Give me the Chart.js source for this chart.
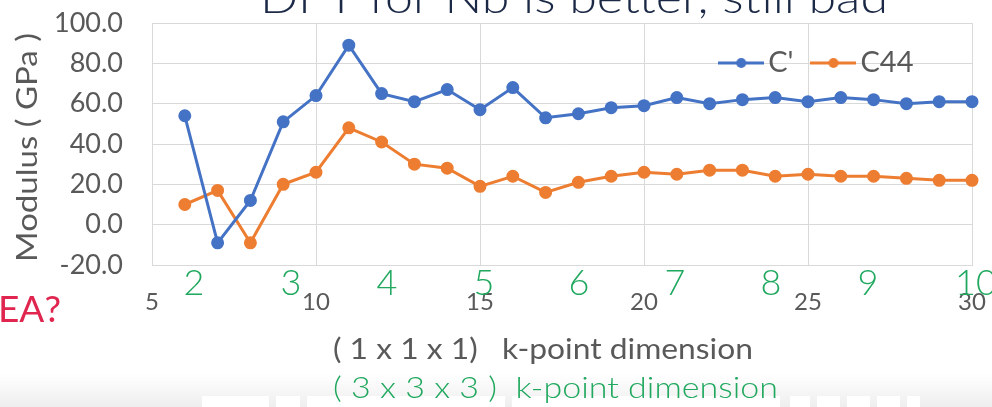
<!DOCTYPE html>
<html>
<head>
<meta charset="utf-8">
<script src="https://cdn.jsdelivr.net/npm/chart.js@4.4.1/dist/chart.umd.min.js"></script>
<style>
  html, body { margin: 0; padding: 0; background: #ffffff; overflow: hidden; }
  #wrap { position: relative; width: 992px; height: 407px; }
  canvas { display: block; }
</style>
</head>
<body>
<div id="wrap"><canvas id="c" width="992" height="407"></canvas></div>
<script>
// k-point mesh size (1 x 1 x 1 notation)
const kPoints = [6, 7, 8, 9, 10, 11, 12, 13, 14, 15, 16, 17, 18, 19, 20, 21, 22, 23, 24, 25, 26, 27, 28, 29, 30];
// Elastic moduli in GPa
const cPrime = [54, -9, 12, 51, 64, 89, 65, 61, 67, 57, 68, 53, 55, 58, 59, 63, 60, 62, 63, 61, 63, 62, 60, 61, 61];
const c44    = [10, 17, -9, 20, 26, 48, 41, 30, 28, 19, 24, 16, 21, 24, 26, 25, 27, 27, 24, 25, 24, 24, 23, 22, 22];
const seriesNames = ["C'", 'C44'];
// Axis ticks
const xTicks = [5, 10, 15, 20, 25, 30];
const yTicks = [-20, 0, 20, 40, 60, 80, 100];
// Equivalent (3 x 3 x 3) mesh labels written under the axis
const coarseLabels = ['2', '3', '4', '5', '6', '7', '8', '9', '10'];

// Layout of the annotation text around the plot
const coarseLabelPx = [194, 291, 387, 484, 579, 675, 771, 868, 976];

const BLUE = '#4472C4';
const ORANGE = '#ED7D31';
const GREY_TEXT = '#595959';
const GRID = '#d9d9d9';
const GREEN = '#1fa85e';

function legendIcon(color) {
  const c = document.createElement('canvas');
  c.width = 46; c.height = 12;
  const g = c.getContext('2d');
  g.strokeStyle = color; g.lineWidth = 3;
  g.beginPath(); g.moveTo(0, 6); g.lineTo(46, 6); g.stroke();
  g.fillStyle = color;
  g.beginPath(); g.arc(23, 6, 5, 0, Math.PI * 2); g.fill();
  return c;
}
const icons = [legendIcon(BLUE), legendIcon(ORANGE)];

// draw text stretched to a given width
function fitText(ctx, text, x, baseline, width) {
  const w = ctx.measureText(text).width;
  const s = width / w;
  ctx.save();
  ctx.translate(x, baseline);
  ctx.scale(s, 1);
  ctx.fillText(text, 0, 0);
  ctx.restore();
}

// one-row legend placed inside the plot area
const legendRow = {
  id: 'legendRow',
  beforeUpdate(chart) {
    if (chart.legend) chart.legend.isHorizontal = () => true;
  },
  beforeDraw(chart) {
    const lg = chart.legend;
    lg.right = chart.chartArea.right - 31;
    lg.top = chart.chartArea.top - 2;
  }
};

const backdrop = {
  id: 'backdrop',
  beforeDraw(chart) {
    const ctx = chart.ctx;
    ctx.save();
    const g = ctx.createLinearGradient(0, 374, 0, 407);
    g.addColorStop(0, 'rgba(238,238,238,0)');
    g.addColorStop(1, 'rgba(238,238,238,1)');
    ctx.fillStyle = g;
    ctx.fillRect(0, 374, 992, 33);
    ctx.fillStyle = '#ffffff';
    [[202, 269], [276, 300], [307, 505], [512, 780], [790, 810], [817, 840], [847, 870], [877, 900], [907, 920]]
      .forEach(([a, b]) => ctx.fillRect(a, 396, b - a, 11));
    ctx.restore();
  }
};

const annotations = {
  id: 'annotations',
  afterDraw(chart) {
    const ctx = chart.ctx;
    ctx.save();
    ctx.textAlign = 'left';
    ctx.textBaseline = 'alphabetic';

    // slide heading (runs off the top edge)
    ctx.fillStyle = '#1b2946';
    ctx.font = '300 44px Lato';
    fitText(ctx, 'DFT for Nb is better, still bad', 260, 13, 628);

    // y-axis title
    ctx.fillStyle = GREY_TEXT;
    ctx.font = '29px Lato';
    ctx.save();
    ctx.translate(37, 148);
    ctx.rotate(-Math.PI / 2);
    fitText(ctx, 'Modulus ( GPa )', -114, 0, 229);
    ctx.restore();

    // x-axis title
    fitText(ctx, '( 1 x 1 x 1)   k-point dimension', 333, 359, 420);

    // green (3 x 3 x 3) labels
    ctx.fillStyle = GREEN;
    ctx.font = '300 29px Lato';
    fitText(ctx, '( 3 x 3 x 3 )  k-point dimension', 333, 398, 445);
    ctx.font = '300 36px Lato';
    ctx.textAlign = 'center';
    coarseLabels.forEach((t, i) => ctx.fillText(t, coarseLabelPx[i], 295));

    // margin note
    ctx.textAlign = 'left';
    ctx.fillStyle = '#e0264f';
    ctx.font = '37px Lato';
    ctx.fillText('EA?', -2, 322);
    ctx.restore();
  }
};

function build() {
  Chart.defaults.font.family = 'Lato';
  new Chart(document.getElementById('c'), {
    type: 'line',
    data: {
      datasets: [
        {
          label: seriesNames[0],
          data: kPoints.map((k, i) => ({ x: k, y: cPrime[i] })),
          borderColor: BLUE, backgroundColor: BLUE,
          borderWidth: 3, pointRadius: 5, pointHoverRadius: 5,
          tension: 0, clip: false
        },
        {
          label: seriesNames[1],
          data: kPoints.map((k, i) => ({ x: k, y: c44[i] })),
          borderColor: ORANGE, backgroundColor: ORANGE,
          borderWidth: 3, pointRadius: 5, pointHoverRadius: 5,
          tension: 0, clip: false
        }
      ]
    },
    options: {
      responsive: false,
      animation: false,
      devicePixelRatio: 1,
      layout: { padding: { top: 23, right: 20, left: 0, bottom: 0 } },
      scales: {
        x: {
          type: 'linear',
          min: xTicks[0], max: xTicks[xTicks.length - 1],
          afterBuildTicks(scale) { scale.ticks = xTicks.map(v => ({ value: v })); },
          afterFit(scale) {
            scale.height = 142;
            scale.paddingLeft = 0; scale.paddingRight = 0;
          },
          grid: { color: GRID, lineWidth: 1, drawTicks: false },
          border: { color: GRID, width: 1 },
          ticks: { color: GREY_TEXT, font: { size: 24 }, padding: 23, maxRotation: 0 }
        },
        y: {
          min: yTicks[0], max: yTicks[yTicks.length - 1],
          afterBuildTicks(scale) { scale.ticks = yTicks.map(v => ({ value: v })); },
          afterFit(scale) {
            scale.width = 152;
            scale.paddingTop = 0; scale.paddingBottom = 0;
          },
          grid: { color: GRID, lineWidth: 1, drawTicks: false },
          border: { color: GRID, width: 1 },
          ticks: {
            color: GREY_TEXT, font: { size: 27 }, padding: 29,
            callback: v => Number(v).toFixed(1)
          }
        }
      },
      plugins: {
        title: { display: false },
        tooltip: { enabled: false },
        legend: {
          position: 'chartArea',
          align: 'end',
          labels: {
            color: GREY_TEXT,
            font: { size: 29 },
            usePointStyle: true,
            pointStyleWidth: 25,
            padding: 27.5,
            generateLabels(chart) {
              const items = Chart.defaults.plugins.legend.labels.generateLabels(chart);
              items.forEach((it, i) => { it.pointStyle = icons[i]; });
              return items;
            }
          }
        }
      }
    },
    plugins: [legendRow, backdrop, annotations]
  });
}

if (document.fonts && document.fonts.load) {
  Promise.all(['24px Lato', '29px Lato', '300 29px Lato'].map(f => document.fonts.load(f))).then(build, build);
} else {
  build();
}
</script>
</body>
</html>
